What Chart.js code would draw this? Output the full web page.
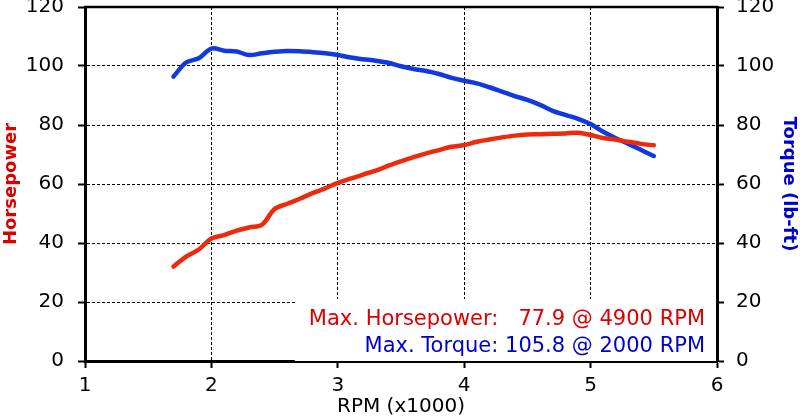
<!DOCTYPE html>
<html><head><meta charset="utf-8">
<script src="https://cdn.jsdelivr.net/npm/chart.js@4.4.1/dist/chart.umd.min.js"></script>
<style>html,body{margin:0;padding:0;background:#fff}canvas{display:block}</style>
</head><body>
<canvas id="c" width="800" height="420"></canvas>
<script>
const rpm = [1.7,1.8,1.9,2.0,2.1,2.2,2.3,2.4,2.5,2.6,2.7,2.8,2.9,3.0,3.1,3.2,3.3,3.4,3.5,3.6,3.7,3.8,3.9,4.0,4.1,4.2,4.3,4.4,4.5,4.6,4.7,4.8,4.9,5.0,5.1,5.2,5.3,5.4,5.5];
const horsepower = [32.0,35.4,37.8,41.5,42.7,44.2,45.3,46.2,51.5,53.3,55.0,56.9,58.5,60.4,61.8,63.2,64.5,66.2,67.7,69.1,70.4,71.5,72.6,73.2,74.3,75.1,75.8,76.4,76.8,76.9,77.0,77.1,77.4,76.6,75.6,75.0,74.3,73.6,73.1];
const torque = [96.4,101.2,102.6,105.9,105.2,104.9,103.7,104.3,104.8,105.1,105.0,104.7,104.3,103.7,102.9,102.3,101.8,101.1,99.9,99.0,98.3,97.3,96.0,95.0,94.1,92.8,91.3,89.8,88.5,86.8,84.8,83.4,82.1,80.3,77.7,75.5,73.6,71.5,69.5];
const xTickValues = [1,2,3,4,5,6];
const yTickValues = [0,20,40,60,80,100,120];
const xTitle = 'RPM (x1000)';
const yLeftTitle = 'Horsepower';
const yRightTitle = 'Torque (lb-ft)';
const maxHpText = 'Max. Horsepower:   77.9 @ 4900 RPM';
const maxTqText = 'Max. Torque: 105.8 @ 2000 RPM';

const FONT = '"DejaVu Sans", sans-serif';
const RED_LINE = '#ee2a0c';
const BLUE_LINE = '#1238e0';
const RED_TEXT = '#dd0000';
const BLUE_TEXT = '#0000cc';

const toPoints = (ys) => rpm.map((x, i) => ({x, y: ys[i]}));

const boxPlugin = {
  id: 'boxAndNotes',
  beforeDatasetsDraw(chart) {
    const {ctx, chartArea: a, scales: {x, y}} = chart;
    ctx.save();
    const left = x.getPixelForValue(2.66);
    const top = y.getPixelForValue(21);
    ctx.fillStyle = '#fff';
    ctx.fillRect(left, top, a.right - left - 1, a.bottom - top);
    ctx.strokeStyle = '#000';
    ctx.lineWidth = 2.5;
    ctx.beginPath();
    ctx.moveTo(a.left - 1, a.top);
    ctx.lineTo(a.right + 1, a.top);
    ctx.stroke();
    ctx.restore();
  },
  afterDraw(chart) {
    const {ctx, chartArea: a} = chart;
    ctx.save();
    ctx.font = '21px ' + FONT;
    ctx.textAlign = 'right';
    ctx.textBaseline = 'alphabetic';
    ctx.fillStyle = RED_TEXT;
    ctx.fillText(maxHpText, a.right - 12, a.bottom - 36);
    ctx.fillStyle = BLUE_TEXT;
    ctx.fillText(maxTqText, a.right - 12, a.bottom - 9);
    ctx.restore();
  }
};

function yAxis(position, title, color, width, onChart) {
  return {
    type: 'linear', position, min: 0, max: 120,
    afterBuildTicks: (s) => { s.ticks = yTickValues.map(v => ({value: v})); },
    afterFit: (s) => { s.width = width; s.paddingTop = 0; s.paddingBottom = 0; },
    ticks: { color: '#000', font: {family: FONT, size: 20}, padding: position === 'left' ? 14 : 12 },
    grid: { display: true, drawOnChartArea: onChart, color: '#000', lineWidth: 1, tickLength: 7, tickColor: '#000', tickWidth: 2 },
    border: { display: true, color: '#000', width: 3, dash: [3, 2] },
    title: { display: true, text: title, color, font: {family: FONT, size: 18, weight: 'bold'}, padding: {top: 1, bottom: 0} }
  };
}

new Chart(document.getElementById('c'), {
  type: 'line',
  data: {
    datasets: [
      { label: 'Horsepower', data: toPoints(horsepower), yAxisID: 'y', borderColor: RED_LINE, borderWidth: 4.5, pointRadius: 0, tension: 0.35, borderCapStyle: 'round', borderJoinStyle: 'round', fill: false },
      { label: 'Torque', data: toPoints(torque), yAxisID: 'y2', borderColor: BLUE_LINE, borderWidth: 4.5, pointRadius: 0, tension: 0.35, borderCapStyle: 'round', borderJoinStyle: 'round', fill: false }
    ]
  },
  options: {
    responsive: false, animation: false, devicePixelRatio: 1,
    layout: { padding: { top: 7, left: 0, right: 0, bottom: 0 } },
    plugins: { legend: { display: false }, tooltip: { enabled: false } },
    scales: {
      x: {
        type: 'linear', position: 'bottom', min: 1, max: 6,
        afterBuildTicks: (s) => { s.ticks = xTickValues.map(v => ({value: v})); },
        afterFit: (s) => { s.height = 59; s.paddingLeft = 0; s.paddingRight = 0; },
        ticks: { color: '#000', font: {family: FONT, size: 20}, padding: 6 },
        grid: { color: '#000', lineWidth: 1, tickLength: 7, tickColor: '#000', tickWidth: 2 },
        border: { display: true, color: '#000', width: 3, dash: [3, 2] },
        title: { display: true, text: xTitle, color: '#000', font: {family: FONT, size: 20}, padding: {top: 0, bottom: 1} }
      },
      y: yAxis('left', yLeftTitle, RED_TEXT, 85, true),
      y2: yAxis('right', yRightTitle, BLUE_TEXT, 83, false)
    }
  },
  plugins: [boxPlugin]
});
</script>
</body></html>
